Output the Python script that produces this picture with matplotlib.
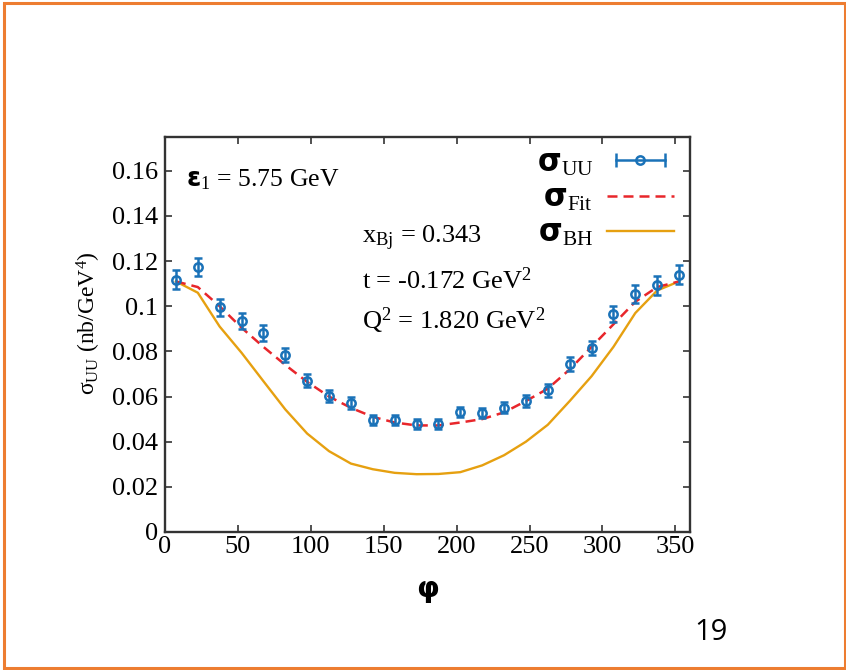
import numpy as np
import matplotlib
matplotlib.use("Agg")
import matplotlib.pyplot as plt
from matplotlib.lines import Line2D
from matplotlib.legend_handler import HandlerLine2D, HandlerTuple
from matplotlib.patches import Rectangle

# -----------------------------
# DATA
# -----------------------------
phi_bins = [7.5, 22.5, 37.5, 52.5, 67.5, 82.5, 97.5, 112.5, 127.5, 142.5, 157.5, 172.5,
            187.5, 202.5, 217.5, 232.5, 247.5, 262.5, 277.5, 292.5, 307.5, 322.5, 337.5, 352.5]

sigma_uu = [0.1118, 0.1174, 0.0995, 0.0935, 0.0881, 0.0785, 0.0671, 0.0603, 0.0571, 0.0496,
            0.0496, 0.0479, 0.0479, 0.0531, 0.0526, 0.0551, 0.0581, 0.0628, 0.0744, 0.0815,
            0.0967, 0.1054, 0.1092, 0.1140]

sigma_uu_err = [0.0042, 0.0040, 0.0038, 0.0035, 0.0035, 0.0032, 0.0030, 0.0028, 0.0025, 0.0022,
                0.0022, 0.0022, 0.0022, 0.0022, 0.0022, 0.0024, 0.0026, 0.0028, 0.0030, 0.0032,
                0.0035, 0.0040, 0.0040, 0.0042]

sigma_fit = [0.1110, 0.1085, 0.1000, 0.0905, 0.0820, 0.0740, 0.0665, 0.0600, 0.0550, 0.0510,
             0.0485, 0.0472, 0.0472, 0.0485, 0.0500, 0.0530, 0.0580, 0.0635, 0.0720, 0.0820,
             0.0920, 0.1020, 0.1085, 0.1110]

sigma_bh = [0.1110, 0.1060, 0.0910, 0.0794, 0.0668, 0.0543, 0.0436, 0.0358, 0.0303, 0.0278,
            0.0262, 0.0256, 0.0257, 0.0265, 0.0295, 0.0340, 0.0400, 0.0475, 0.0580, 0.0690,
            0.0820, 0.0970, 0.1070, 0.1110]

y_ticks = [0, 0.02, 0.04, 0.06, 0.08, 0.1, 0.12, 0.14, 0.16]
x_ticks = [0, 50, 100, 150, 200, 250, 300, 350]

# -----------------------------
# STYLE
# -----------------------------
plt.rcParams['font.family'] = ['Liberation Serif', 'DejaVu Serif']
plt.rcParams['mathtext.fontset'] = 'custom'
plt.rcParams['mathtext.rm'] = 'Liberation Serif'
plt.rcParams['mathtext.it'] = 'Liberation Serif:italic'
plt.rcParams['mathtext.bf'] = 'DejaVu Sans:bold'

blue_color = '#1a72b8'
red_color = '#e8262b'
orange_color = '#e6a010'
axis_color = '#333333'

figure_handle = plt.figure(figsize=(8.46, 6.70), dpi=100)
axis_handle = figure_handle.add_axes([0.195, 0.206, 0.6206, 0.5896])

# -----------------------------
# PLOT
# -----------------------------
axis_handle.plot(phi_bins, sigma_bh, color=orange_color, lw=1.7, zorder=2)
axis_handle.plot(phi_bins, sigma_fit, color=red_color, lw=1.8, dashes=(4, 2.4), zorder=3)
axis_handle.errorbar(phi_bins, sigma_uu, yerr=sigma_uu_err, fmt='o', color=blue_color,
                     mfc='none', mec=blue_color, ms=6, mew=1.8, elinewidth=1.8,
                     capsize=3, capthick=1.8, zorder=4)

axis_handle.set_xlim(0, 360)
axis_handle.set_ylim(0, 0.175)
axis_handle.set_xticks(x_ticks)
axis_handle.set_yticks(y_ticks)
axis_handle.set_yticklabels(['%g' % v for v in y_ticks])

axis_handle.tick_params(direction='in', length=5, width=1.2, colors=axis_color,
                        labelcolor='black', labelsize=19, top=True, right=True)
axis_handle.tick_params(axis='y', pad=5)
axis_handle.tick_params(axis='x', pad=3)
for spine in axis_handle.spines.values():
    spine.set_color(axis_color)
    spine.set_linewidth(1.7)

axis_handle.set_xlabel(r'$\mathbf{\varphi}$', fontsize=21)
axis_handle.xaxis.set_label_coords(0.5, -0.12)
axis_handle.set_ylabel(r'$\mathrm{\sigma_{UU}}$ (nb/GeV$^4$)', fontsize=17)
axis_handle.yaxis.set_label_coords(-0.118, 0.53)

# -----------------------------
# ANNOTATIONS
# -----------------------------
text_size = 19
axis_handle.text(0.04, 0.893, r'$\mathbf{\varepsilon}_1$ = 5.75 GeV', fontsize=18.5,
                 transform=axis_handle.transAxes, va='center', ha='left')
axis_handle.text(0.375, 0.742, r'x$_\mathrm{Bj}$ = 0.343', fontsize=text_size,
                 transform=axis_handle.transAxes, va='center', ha='left')
axis_handle.text(0.375, 0.636, r't = -0.172 GeV$^2$', fontsize=text_size,
                 transform=axis_handle.transAxes, va='center', ha='left')
axis_handle.text(0.375, 0.535, r'Q$^2$ = 1.820 GeV$^2$', fontsize=text_size,
                 transform=axis_handle.transAxes, va='center', ha='left')

# -----------------------------
# LEGEND (gnuplot style: label left of the sample)
# -----------------------------
caps_line = Line2D([], [], color=blue_color, lw=1.8, marker='|', ms=10, mew=1.8)
circle_marker = Line2D([], [], color=blue_color, ls='none', marker='o', mfc='none',
                       ms=6, mew=1.8)
fit_line = Line2D([], [], color=red_color, lw=1.8, dashes=(4, 2.4))
bh_line = Line2D([], [], color=orange_color, lw=1.7)

legend_handle = axis_handle.legend(
    [(caps_line, circle_marker), fit_line, bh_line],
    [r'$\mathbf{\sigma}_\mathrm{UU}$', r'$\mathbf{\sigma}_\mathrm{Fit}$',
     r'$\mathbf{\sigma}_\mathrm{BH}$'],
    handler_map={caps_line: HandlerLine2D(numpoints=2),
                 circle_marker: HandlerLine2D(numpoints=1),
                 tuple: HandlerTuple(ndivide=1, pad=0)},
    loc='upper right', bbox_to_anchor=(0.993, 1.0), markerfirst=False,
    frameon=False, fontsize=22, handlelength=2.2, handletextpad=0.45,
    labelspacing=0.2, borderaxespad=0)

# -----------------------------
# SLIDE DECORATION
# -----------------------------
figure_handle.patches.append(Rectangle((3.5 / 846, 2.5 / 670), 841 / 846, 664.5 / 670,
                                       transform=figure_handle.transFigure, fill=False,
                                       edgecolor='#ed7d31', lw=2.2))
figure_handle.text(711 / 846, 1 - 632 / 670, '19', fontsize=21, family='Open Sans',
                   ha='center', va='center')

figure_handle.savefig('out.png', dpi=100)
